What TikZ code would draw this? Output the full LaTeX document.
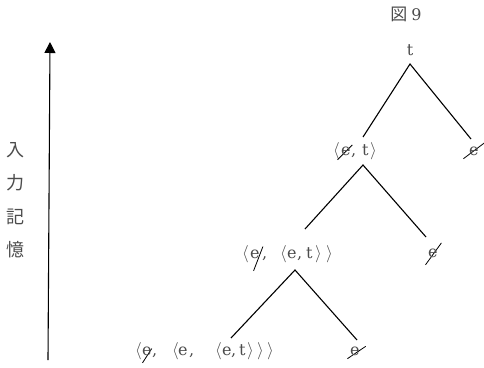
\documentclass[tikz,border=0pt]{standalone}
\usepackage{fontspec}
\usepackage{graphicx}
\usetikzlibrary{arrows.meta}
\newfontfamily\cjk{Noto Sans CJK JP}
\newfontfamily\lat{DejaVu Serif}
\definecolor{txtgray}{gray}{0.3}
% glyph cell: left aligned box of given width
\newcommand\gc[2]{\makebox[#1pt][l]{#2}}
% struck e: hshift, raise, angle, length
\newcommand\xe[4]{\makebox[0pt][l]{\hspace*{#1pt}\raisebox{#2pt}{\rotatebox{#3}{\textcolor{black}{\rule{#4pt}{0.8pt}}}}}e}
\newcommand\la{{\fontsize{19}{21}\selectfont$\langle$}}
\newcommand\ra{{\fontsize{19}{21}\selectfont$\rangle$}}
\begin{document}
\begin{tikzpicture}[x=1pt,y=-1pt,
  lbl/.style={inner sep=0pt,text=txtgray,font=\lat\fontsize{16}{18}\selectfont},
  jp/.style={inner sep=0pt,text=txtgray,font=\cjk\fontsize{18}{20}\selectfont},
  branch/.style={line width=1.1pt,black},
  memarrow/.style={line width=1.1pt,-{Triangle[length=11pt,width=11pt]}}]
\useasboundingbox (0,0) rectangle (484,367);
% title
\node[lbl,anchor=base] (title) at (406,20) {{\cjk\fontsize{17}{19}\selectfont 図}\hspace{4pt}9};
% arrow and vertical label
\coordinate (arrS) at (48,360);
\coordinate (arrE) at (50,42);
\draw[memarrow] (arrS) -- (arrE);
\node[jp] (k1) at (15,150) {入};
\node[jp] (k2) at (15,183) {力};
\node[jp] (k3) at (15,217) {記};
\node[jp] (k4) at (15,250) {憶};
% labels
\node[lbl,anchor=base] (root) at (410,55) {t};
\node[lbl,anchor=base west] (n1) at (333,155)
  {\gc{8}{\la}\gc{10}{\xe{-4}{-5}{45}{21}}\gc{11}{,}\gc{8}{t}\ra};
\node[lbl,anchor=base west] (e1) at (469,155) {\xe{-6}{-4}{37}{26}};
\node[lbl,anchor=base west] (n2) at (242,258)
  {\gc{8}{\la}\gc{12}{\xe{3}{-13}{69}{26}}\gc{18}{,}\gc{7}{\la}\gc{10}{e}\gc{9}{,}\gc{9}{t}\gc{11}{\ra}\ra};
\node[lbl,anchor=base west] (e2) at (428,257) {\xe{-3}{-8}{54}{27}};
\node[lbl,anchor=base west] (n3) at (135,355)
  {\gc{7}{\la}\gc{10}{\xe{0}{-8}{57}{17}}\gc{20}{,}\gc{6}{\la}\gc{11}{e}\gc{26}{,}\gc{7}{\la}\gc{9}{e}\gc{8}{,}\gc{8}{t}\gc{10}{\ra}\gc{10}{\ra}\ra};
\node[lbl,anchor=base west] (e3) at (350,355) {\xe{-3}{-4}{34}{22}};
% tree branches
\coordinate (ap1) at (410,64);
\coordinate (ap1l) at (363,137);
\coordinate (ap1r) at (471,139);
\coordinate (ap2) at (363,165);
\coordinate (ap2l) at (305,229);
\coordinate (ap2r) at (426,237);
\coordinate (ap3) at (295,270);
\coordinate (ap3l) at (231,338);
\coordinate (ap3r) at (357,340);
\draw[branch] (ap1l) -- (ap1) -- (ap1r);
\draw[branch] (ap2l) -- (ap2) -- (ap2r);
\draw[branch] (ap3l) -- (ap3) -- (ap3r);
\end{tikzpicture}
\end{document}
